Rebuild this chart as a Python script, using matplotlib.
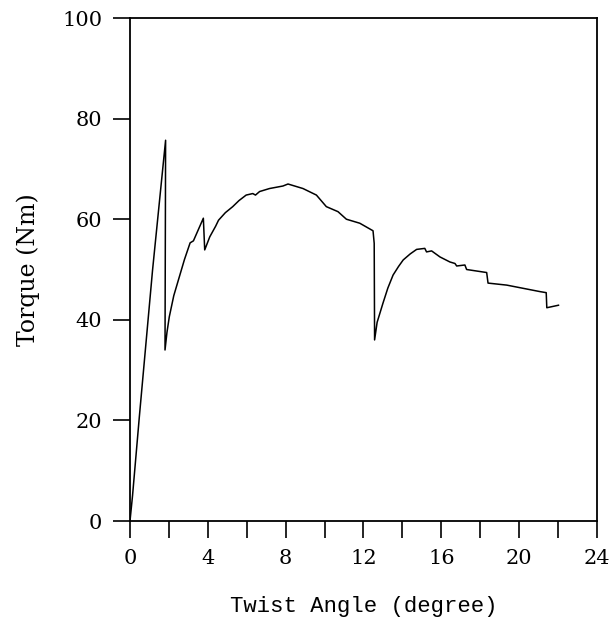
import matplotlib
matplotlib.use("Agg")
import matplotlib.pyplot as plt
from matplotlib.ticker import MultipleLocator

# --- Data ---
twist_angle = [0.0, 0.13, 0.48, 1.16, 1.83, 1.80, 1.90, 2.02, 2.25, 2.54,
               2.80, 3.09, 3.26, 3.77, 3.84, 4.10, 4.40, 4.55, 4.90, 5.28,
               5.60, 5.97, 6.31, 6.45, 6.66, 7.17, 7.86, 8.12, 8.89, 9.58,
               10.09, 10.69, 11.12, 11.81, 12.49, 12.55, 12.57, 12.70, 13.0,
               13.25, 13.52, 13.80, 14.04, 14.40, 14.73, 15.15, 15.24, 15.5,
               15.93, 16.44, 16.70, 16.79, 17.21, 17.30, 18.33, 18.40, 19.36,
               21.08, 21.39, 21.42, 22.02]
torque = [0.0, 5.0, 20.7, 49.9, 75.7, 34.0, 37.5, 40.6, 44.8, 48.6,
          52.0, 55.3, 55.7, 60.2, 53.9, 56.5, 58.6, 59.8, 61.3, 62.5,
          63.7, 64.8, 65.1, 64.8, 65.5, 66.1, 66.6, 67.0, 66.1, 64.8,
          62.5, 61.5, 60.0, 59.2, 57.7, 55.2, 36.0, 39.5, 43.3,
          46.3, 48.9, 50.6, 51.9, 53.1, 54.0, 54.2, 53.5, 53.7,
          52.5, 51.5, 51.2, 50.7, 50.9, 50.0, 49.4, 47.3, 46.9,
          45.6, 45.4, 42.4, 42.9]

x_ticks = [0, 4, 8, 12, 16, 20, 24]
y_ticks = [0, 20, 40, 60, 80, 100]

fig = plt.figure(figsize=(6.12, 6.21), dpi=100)
ax = fig.add_axes([0.2124, 0.161, 0.7631, 0.81])

ax.plot(twist_angle, torque, color="black", linewidth=1.1)

ax.set_xlim(0, 24)
ax.set_ylim(0, 100)
ax.set_xticks(x_ticks)
ax.set_yticks(y_ticks)
ax.xaxis.set_minor_locator(MultipleLocator(2))

ax.tick_params(axis="both", which="both", direction="out", length=12,
               width=1.2, top=False, right=False, labelsize=15)
ax.tick_params(axis="x", pad=8)
ax.tick_params(axis="y", pad=8)
for lab in ax.get_xticklabels() + ax.get_yticklabels():
    lab.set_family("DejaVu Serif")

for s in ax.spines.values():
    s.set_linewidth(1.3)

ax.set_xlabel("Twist Angle (degree)", family="Liberation Mono",
              fontsize=16, labelpad=20)
ax.set_ylabel("Torque (Nm)", family="DejaVu Serif", fontsize=17,
              labelpad=16)

fig.savefig("out.png", dpi=100)
